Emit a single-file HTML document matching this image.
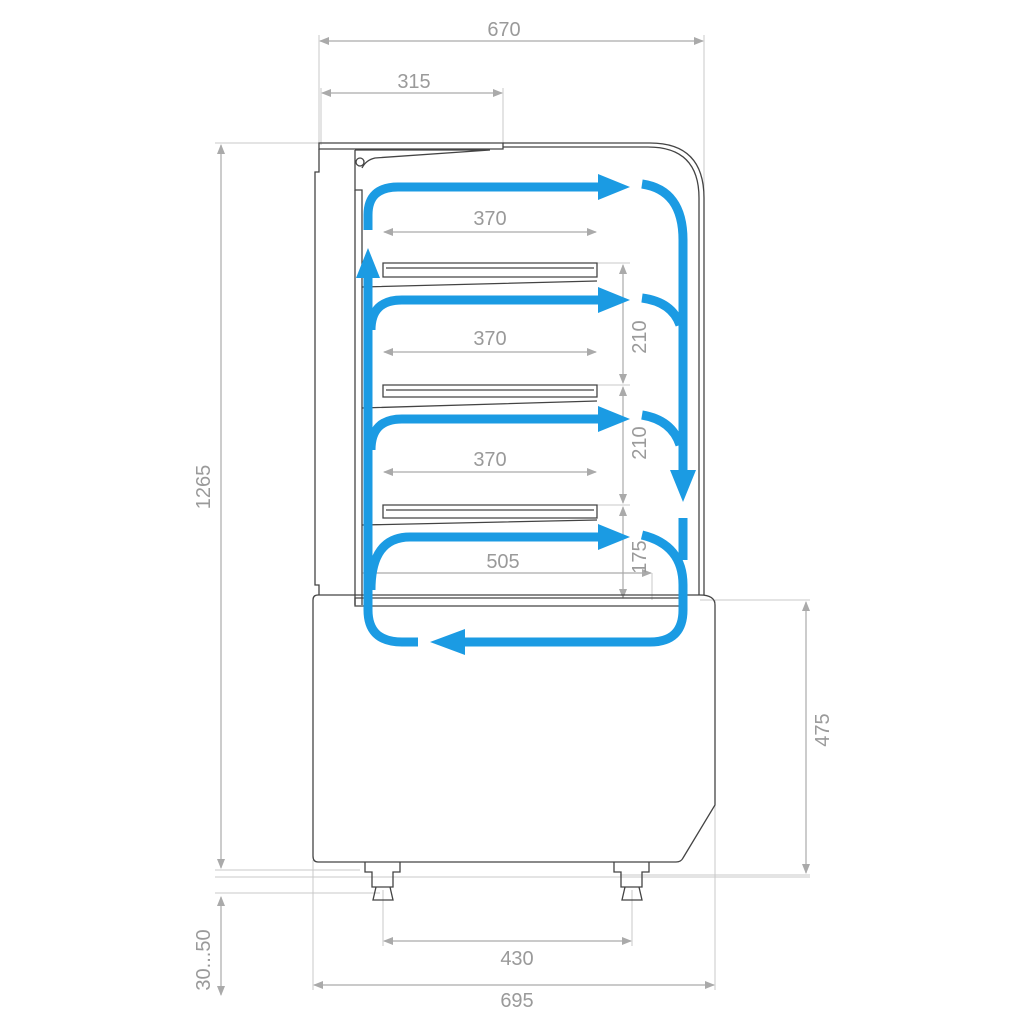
<!DOCTYPE html>
<html><head><meta charset="utf-8"><style>
html,body{margin:0;padding:0;background:#fff}
svg{display:block}
text{font-family:"Liberation Sans",sans-serif;font-size:20px;fill:#9a9a9a}
</style></head><body>
<svg width="1024" height="1024" viewBox="0 0 1024 1024" xmlns="http://www.w3.org/2000/svg">
<defs>
<marker id="ag" markerWidth="10" markerHeight="8" refX="9" refY="4" orient="auto" markerUnits="userSpaceOnUse"><path d="M0,0 L10,4 L0,8 Z" fill="#aaa"/></marker>
<marker id="ags" markerWidth="10" markerHeight="8" refX="1" refY="4" orient="auto" markerUnits="userSpaceOnUse"><path d="M10,0 L0,4 L10,8 Z" fill="#aaa"/></marker>
</defs>
<g stroke="#c8c8c8" stroke-width="1" fill="none">
<path d="M319,35V145 M704,35V595 M321,88V145 M503,88V145"/>
<path d="M215,143H320 M215,870H360 M215,877H810 M215,893H380"/>
<path d="M700,600H810 M620,875H810"/>
<path d="M313,860V990 M715,600V990 M383,890V946 M632,890V946"/>
<path d="M597,263H630 M597,385H630 M597,505H630 M652,573V600"/>
</g>
<g stroke="#aaa" stroke-width="1.2" fill="none" marker-start="url(#ags)" marker-end="url(#ag)">
<path d="M320,41H703"/>
<path d="M322,93H502"/>
<path d="M221,145V868"/>
<path d="M221,897V995"/>
<path d="M806,602V873"/>
<path d="M384,941H631"/>
<path d="M314,985H714"/>
<path d="M384,232H596"/>
<path d="M384,352H596"/>
<path d="M384,472H596"/>
<path d="M363,573H651"/>
<path d="M623,265V383"/>
<path d="M623,387V503"/>
<path d="M623,507V598"/>
</g>
<text x="504" y="36" text-anchor="middle">670</text>
<text x="414" y="88" text-anchor="middle">315</text>
<text x="490" y="225" text-anchor="middle">370</text>
<text x="490" y="345" text-anchor="middle">370</text>
<text x="490" y="466" text-anchor="middle">370</text>
<text x="503" y="568" text-anchor="middle">505</text>
<text x="517" y="965" text-anchor="middle">430</text>
<text x="517" y="1007" text-anchor="middle">695</text>
<text transform="translate(210,487) rotate(-90)" text-anchor="middle">1265</text>
<text transform="translate(210,960) rotate(-90)" text-anchor="middle">30...50</text>
<text transform="translate(829,730) rotate(-90)" text-anchor="middle">475</text>
<text transform="translate(646,337) rotate(-90)" text-anchor="middle">210</text>
<text transform="translate(646,443) rotate(-90)" text-anchor="middle">210</text>
<text transform="translate(646,557) rotate(-90)" text-anchor="middle">175</text>
<g stroke="#444" stroke-width="1.3" fill="none">
<path d="M319,143H503V149H319Z"/>
<path d="M503,143H650Q704,143 704,198V595"/>
<path d="M503,147H648Q699,147 699,198V595"/>
<path d="M319,149V172H315V585H319V595"/>
<path d="M355,150V190H362V605 M355,150H490 M362,168Q366,160 375,158L490,150"/>
<path d="M355,190V605"/>
<path d="M318,595H700Q715,595 715,605V805L683,858Q681,862 676,862H318Q313,862 313,856V600Q313,595 318,595Z"/>
<path d="M355,598H685V606H355Z"/>
<path d="M383,263H597V277H383Z M386,268H594"/>
<path d="M383,385H597V397H383Z M386,390H594"/>
<path d="M383,505H597V518H383Z M386,510H594"/>
<path d="M362,287L597,281 M362,408L597,401 M362,525L597,520"/>
<path d="M365,862V872H372V887H393V872H400V862 M614,862V872H621V887H642V872H649V862"/>
<path d="M376,887L373,900H393L390,887 M625,887L622,900H642L639,887"/>
<circle cx="360" cy="162" r="4"/>
</g>
<g stroke="#1b9be3" stroke-width="9" fill="none">
<path d="M368,230V215Q368,187 398,187H602"/>
<path d="M642,184Q683,190 683,240V472"/>
<path d="M371,330Q371,300 402,300H602"/>
<path d="M642,298Q672,302 680,325"/>
<path d="M371,450Q371,419 402,419H602"/>
<path d="M642,415Q672,420 680,445"/>
<path d="M371,590Q371,537 410,537H602"/>
<path d="M642,535Q683,545 683,585V610Q683,642 650,642H462"/>
<path d="M683,518V560"/>
<path d="M418,642H402Q368,642 368,610V275"/>
</g>
<g fill="#1b9be3">
<path d="M598,174L630,187L598,200Z"/>
<path d="M598,287L630,300L598,313Z"/>
<path d="M598,406L630,419L598,432Z"/>
<path d="M598,524L630,537L598,550Z"/>
<path d="M670,470L683,502L696,470Z"/>
<path d="M465,629L430,642L465,655Z"/>
<path d="M356,278L368,248L380,278Z"/>
</g>
</svg>
</body></html>
